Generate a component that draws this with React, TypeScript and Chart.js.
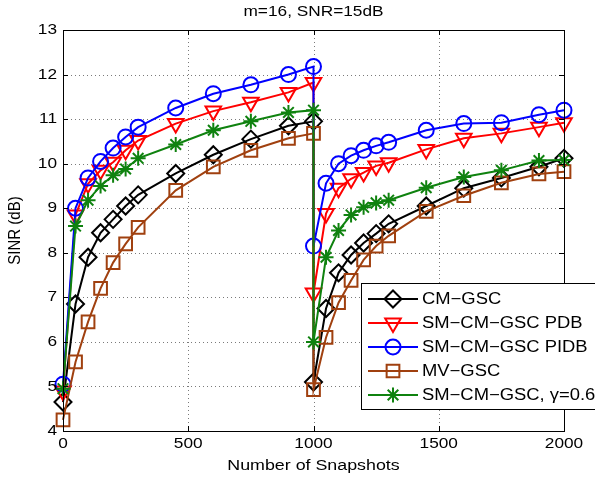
import React, { useEffect, useRef } from "react";
import { Chart, registerables } from "chart.js";
import { drawPoint } from "chart.js/helpers";

Chart.register(...registerables);

// ---------- data ----------
const snapshots = [
  0, 50, 100, 150, 200, 250, 300, 450, 600, 750, 900, 1000,
  1000, 1050, 1100, 1150, 1200, 1250, 1300, 1450, 1600, 1750, 1900, 2000,
];
const cmGsc = [
  4.65, 6.85, 7.9, 8.45, 8.75, 9.05, 9.3, 9.78, 10.2, 10.55, 10.85, 10.95,
  5.1, 6.75, 7.55, 7.95, 8.22, 8.43, 8.65, 9.05, 9.45, 9.68, 9.93, 10.12,
];
const smCmGscPdb = [
  4.9, 8.85, 9.55, 9.85, 10.03, 10.3, 10.52, 10.9, 11.18, 11.38, 11.6, 11.82,
  7.1, 8.88, 9.45, 9.66, 9.8, 9.95, 10.02, 10.32, 10.57, 10.68, 10.82, 10.92,
];
const smCmGscPidb = [
  5.05, 9.0, 9.68, 10.05, 10.35, 10.6, 10.82, 11.25, 11.57, 11.77, 12.0, 12.18,
  8.15, 9.56, 10.0, 10.18, 10.3, 10.4, 10.48, 10.75, 10.9, 10.92, 11.1, 11.2,
];
const mvGsc = [
  4.25, 5.55, 6.45, 7.2, 7.78, 8.2, 8.57, 9.4, 9.93, 10.3, 10.57, 10.68,
  4.93, 6.1, 6.88, 7.38, 7.84, 8.15, 8.38, 8.93, 9.28, 9.57, 9.77, 9.82,
];
const smCmGscGamma = [
  4.95, 8.6, 9.18, 9.5, 9.74, 9.88, 10.12, 10.43, 10.75, 10.95, 11.15, 11.2,
  6.0, 7.9, 8.5, 8.85, 9.02, 9.12, 9.18, 9.46, 9.7, 9.85, 10.07, 10.08,
];
const seriesNames = [
  "CM\u2212GSC",
  "SM\u2212CM\u2212GSC PDB",
  "SM\u2212CM\u2212GSC PIDB",
  "MV\u2212GSC",
  "SM\u2212CM\u2212GSC, \u03b3=0.6",
];
const seriesValues = [cmGsc, smCmGscPdb, smCmGscPidb, mvGsc, smCmGscGamma];
const xTicks = [0, 500, 1000, 1500, 2000];
const yTicks = [4, 5, 6, 7, 8, 9, 10, 11, 12, 13];
const chartTitle = "m=16, SNR=15dB";
const xTitle = "Number of Snapshots";
const yTitle = "SINR (dB)";

// ---------- styles ----------
const FONT = "'Liberation Sans', Arial, Helvetica, sans-serif";
const SX = 1.15; // horizontal text stretch seen in the reference
const styles = [
  { color: "#000000", point: "rectRot", radius: 8.5, rotation: 0 },
  { color: "#ff0000", point: "triangle", radius: 9, rotation: 180 },
  { color: "#0000ff", point: "circle", radius: 7.5, rotation: 0 },
  { color: "#a0400f", point: "rect", radius: 9, rotation: 0 },
  { color: "#0f820f", point: "star", radius: 7.5, rotation: 0 },
];

function drawText(
  ctx: CanvasRenderingContext2D,
  text: string,
  x: number,
  y: number,
  align: CanvasTextAlign,
  size: number,
  rotate = false
) {
  ctx.save();
  ctx.translate(x, y);
  if (rotate) {
    ctx.rotate(-Math.PI / 2);
    ctx.scale(1, SX);
  } else {
    ctx.scale(SX, 1);
  }
  ctx.font = `${size}px ${FONT}`;
  ctx.fillStyle = "#000";
  ctx.textAlign = align;
  ctx.textBaseline = "middle";
  ctx.fillText(text, 0, 0);
  ctx.restore();
}

const gridPlugin = {
  id: "dottedGrid",
  beforeDatasetsDraw(chart: any) {
    const { ctx, chartArea: a, scales } = chart;
    ctx.save();
    ctx.strokeStyle = "#7a7a7a";
    ctx.lineWidth = 1;
    ctx.setLineDash([1, 3]);
    ctx.beginPath();
    xTicks.forEach((t) => {
      const px = Math.round(scales.x.getPixelForValue(t)) + 0.5;
      ctx.moveTo(px, a.top);
      ctx.lineTo(px, a.bottom);
    });
    yTicks.forEach((t) => {
      const py = Math.round(scales.y.getPixelForValue(t)) + 0.5;
      ctx.moveTo(a.left, py);
      ctx.lineTo(a.right, py);
    });
    ctx.stroke();
    ctx.restore();
  },
};

const decorPlugin = {
  id: "decor",
  afterDatasetsDraw(chart: any) {
    const { ctx, chartArea: a, scales } = chart;
    const xs = scales.x;
    const ys = scales.y;
    ctx.save();
    // inward tick marks
    ctx.strokeStyle = "#000";
    ctx.lineWidth = 1;
    ctx.setLineDash([]);
    ctx.beginPath();
    xTicks.forEach((t) => {
      const px = Math.round(xs.getPixelForValue(t)) + 0.5;
      ctx.moveTo(px, a.bottom);
      ctx.lineTo(px, a.bottom - 5);
      ctx.moveTo(px, a.top);
      ctx.lineTo(px, a.top + 5);
    });
    yTicks.forEach((t) => {
      const py = Math.round(ys.getPixelForValue(t)) + 0.5;
      ctx.moveTo(a.left, py);
      ctx.lineTo(a.left + 5, py);
      ctx.moveTo(a.right, py);
      ctx.lineTo(a.right - 5, py);
    });
    ctx.stroke();
    // border
    ctx.strokeRect(
      Math.round(a.left) + 0.5,
      Math.round(a.top) + 0.5,
      Math.round(a.right - a.left),
      Math.round(a.bottom - a.top)
    );
    // tick labels
    xTicks.forEach((t) => {
      drawText(ctx, String(t), xs.getPixelForValue(t), a.bottom + 13, "center", 15);
    });
    yTicks.forEach((t) => {
      drawText(ctx, String(t), a.left - 6, ys.getPixelForValue(t), "right", 15);
    });
    // titles
    drawText(ctx, chartTitle, (a.left + a.right) / 2, 12, "center", 15);
    drawText(ctx, xTitle, (a.left + a.right) / 2, 466, "center", 15.5);
    drawText(ctx, yTitle, 15, (a.top + a.bottom) / 2, "center", 15, true);

    // legend
    const lx = 361;
    const ly = 283;
    const lw = 245;
    const lh = 126;
    ctx.fillStyle = "#fff";
    ctx.fillRect(lx, ly, lw, lh);
    ctx.strokeStyle = "#000";
    ctx.lineWidth = 1;
    ctx.strokeRect(lx + 0.5, ly + 0.5, lw, lh);
    seriesNames.forEach((name, i) => {
      const s = styles[i];
      const y = 299 + 24 * i;
      ctx.strokeStyle = s.color;
      ctx.lineWidth = 2;
      ctx.beginPath();
      ctx.moveTo(368, y);
      ctx.lineTo(418, y);
      ctx.stroke();
      ctx.fillStyle = "rgba(0,0,0,0)";
      ctx.strokeStyle = s.color;
      ctx.lineWidth = 2;
      drawPoint(
        ctx,
        {
          pointStyle: s.point as any,
          radius: s.radius,
          rotation: s.rotation,
          borderWidth: 2,
        } as any,
        393,
        y
      );
      drawText(ctx, name, 422, y + 1, "left", 16);
    });
    ctx.restore();
  },
};

export default function App() {
  const canvasRef = useRef<HTMLCanvasElement | null>(null);

  useEffect(() => {
    const canvas = canvasRef.current;
    if (!canvas) return;
    const datasets = seriesValues.map((vals, i) => ({
      label: seriesNames[i],
      data: vals.map((v, j) => ({ x: snapshots[j], y: v })),
      borderColor: styles[i].color,
      backgroundColor: "transparent",
      borderWidth: 2,
      pointStyle: styles[i].point as any,
      pointRadius: styles[i].radius,
      pointRotation: styles[i].rotation,
      pointBorderColor: styles[i].color,
      pointBackgroundColor: "rgba(0,0,0,0)",
      pointBorderWidth: 2,
      tension: 0,
      clip: false as any,
      order: -i,
    }));

    const chart = new Chart(canvas, {
      type: "line",
      data: { datasets },
      plugins: [gridPlugin, decorPlugin],
      options: {
        animation: false,
        responsive: false,
        maintainAspectRatio: false,
        devicePixelRatio: 1,
        layout: { padding: { top: 30, right: 31, left: 0, bottom: 0 } },
        plugins: {
          legend: { display: false },
          title: { display: false },
          tooltip: { enabled: false },
        },
        scales: {
          x: {
            type: "linear",
            min: 0,
            max: 2000,
            afterFit: (s: any) => {
              s.height = 50;
            },
            afterBuildTicks: (s: any) => {
              s.ticks = xTicks.map((v) => ({ value: v }));
            },
            ticks: { display: false },
            grid: { display: false },
            border: { display: false },
          },
          y: {
            type: "linear",
            min: 4,
            max: 13,
            afterFit: (s: any) => {
              s.width = 63;
            },
            afterBuildTicks: (s: any) => {
              s.ticks = yTicks.map((v) => ({ value: v }));
            },
            ticks: { display: false },
            grid: { display: false },
            border: { display: false },
          },
        },
      },
    });
    return () => chart.destroy();
  }, []);

  return (
    <div style={{ position: "absolute", left: 0, top: 0, width: 595, height: 481, background: "#fff" }}>
      <canvas ref={canvasRef} width={595} height={481} style={{ display: "block" }} />
    </div>
  );
}
